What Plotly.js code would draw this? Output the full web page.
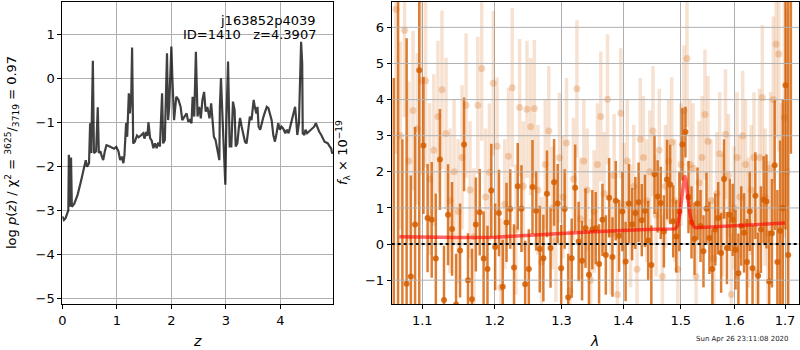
<!DOCTYPE html>
<html>
<head>
<meta charset="utf-8">
<script src="https://cdn.plot.ly/plotly-3.0.1.min.js"></script>
<style>html,body{margin:0;padding:0;background:#fff;}#chart{width:800px;height:350px;}</style>
</head>
<body>
<div id="chart"></div>
<script>
// ---------- Left panel: log p(z) ----------
const zGrid = [0.00,0.03,0.06,0.09,0.11,0.12,0.135,0.16,0.175,0.22,0.28,0.34,0.39,0.43,0.455,0.49,0.51,0.53,0.56,0.58,
  0.62,0.65,0.67,0.70,0.72,0.75,0.78,0.81,0.85,0.90,0.95,0.99,1.03,1.06,1.09,1.12,1.14,1.17,1.19,1.22,
  1.24,1.265,1.28,1.30,1.33,1.37,1.40,1.44,1.48,1.51,1.53,1.56,1.58,1.61,1.64,1.67,1.70,1.73,1.76,1.79,
  1.83,1.85,1.88,1.92,1.94,1.96,2.00,2.02,2.05,2.09,2.13,2.17,2.20,2.24,2.28,2.31,2.34,2.37,2.39,2.42,
  2.45,2.48,2.51,2.54,2.57,2.60,2.63,2.66,2.70,2.73,2.75,2.78,2.81,2.85,2.88,2.89,2.91,2.94,2.97,2.99,
  3.01,3.04,3.07,3.10,3.13,3.16,3.18,3.21,3.24,3.26,3.29,3.32,3.35,3.38,3.41,3.44,3.47,3.51,3.53,3.56,
  3.58,3.60,3.63,3.66,3.69,3.72,3.75,3.78,3.81,3.84,3.87,3.90,3.93,3.96,3.99,4.02,4.05,4.09,4.12,4.15,
  4.18,4.21,4.24,4.27,4.29,4.31,4.34,4.36,4.38,4.40,4.41,4.44,4.46,4.49,4.52,4.56,4.59,4.62,4.65,4.68,
  4.71,4.75,4.78,4.81,4.84,4.87,4.90,4.93,4.95,4.97];
const logPz = [-3.14,-3.22,-3.18,-3.05,-3.00,-1.74,-2.92,-1.80,-2.92,-2.85,-2.65,-2.35,-2.10,-1.86,-2.01,-1.93,-1.02,-1.70,0.40,-1.70,
  -1.66,-0.66,-1.70,-1.66,-1.76,-1.86,-1.66,-1.52,-1.54,-1.57,-1.60,-1.56,-1.66,-1.86,-1.78,-1.93,-1.74,-1.02,-1.33,-0.34,
  -0.80,-0.34,0.70,-1.48,-1.44,-1.30,-1.34,-1.30,-1.25,-1.37,-1.22,-1.31,-1.00,-1.36,-1.42,-1.59,-1.48,-1.59,-1.46,-1.55,
  -0.34,-1.48,-1.40,0.57,-0.95,-0.65,0.72,-0.04,-0.95,-0.42,-0.49,-0.65,-0.95,-0.87,-0.80,-0.99,-0.95,-1.02,-0.42,-0.87,
  0.60,-0.87,-0.65,-0.91,-0.49,-0.31,-0.76,-0.65,-0.91,-0.57,-0.95,-1.33,-1.40,-1.67,-1.86,-0.65,0.00,-0.95,-1.86,-2.42,
  -0.95,0.38,-1.55,-1.55,-0.53,-0.72,-1.55,-1.48,-1.10,-0.90,-1.10,-1.25,-1.44,-1.48,-1.17,-0.87,-0.95,-0.49,-0.65,-0.80,
  -0.65,-1.10,-1.17,-0.99,-0.87,-0.76,-0.65,-0.68,-0.83,-0.95,-1.29,-1.44,-1.25,-1.02,-1.17,-1.10,-1.14,-1.25,-1.17,-1.25,
  -1.10,-0.95,-0.80,-0.65,-0.95,-1.29,-1.02,0.34,0.83,0.34,-1.25,-1.29,-1.17,-1.25,-1.21,-1.17,-1.14,-1.10,-1.02,-1.14,
  -1.21,-1.29,-1.36,-1.44,-1.46,-1.48,-1.54,-1.59,-1.71,-1.67];

// ---------- Right panel: spectrum ----------
const lamDark = [1.0630,1.0685,1.0740,1.0795,1.0850,1.0905,1.0960,1.1015,1.1070,1.1125,1.1180,1.1235,1.1290,1.1345,1.1400,1.1455,1.1510,1.1565,1.1620,1.1675,
  1.1730,1.1785,1.1840,1.1895,1.1950,1.2005,1.2060,1.2115,1.2170,1.2225,1.2280,1.2335,1.2390,1.2445,1.2500,1.2555,1.2610,1.2665,1.2720,1.2775,
  1.2830,1.2885,1.2940,1.2995,1.3050,1.3105,1.3160,1.3215,1.3270,1.3325,1.3380,1.3435,1.3490,1.3545,1.3600,1.3655,1.3710,1.3765,1.3820,1.3875,
  1.3930,1.3985,1.4040,1.4095,1.4150,1.4205,1.4260,1.4315,1.4370,1.4425,1.4480,1.4535,1.4590,1.4645,1.4700,1.4755,1.4810,1.4865,1.4920,1.4975,
  1.5030,1.5085,1.5140,1.5195,1.5250,1.5305,1.5360,1.5415,1.5470,1.5525,1.5580,1.5635,1.5690,1.5745,1.5800,1.5855,1.5910,1.5965,1.6020,1.6075,
  1.6130,1.6185,1.6240,1.6295,1.6350,1.6405,1.6460,1.6515,1.6570,1.6625,1.6680,1.6735,1.6790,1.6845,1.6900,1.6955,1.7010,1.7065,1.7120];
const fluxDark = [-2.2,7.5,-2.3,-1.1,-0.9,0.54,4.81,2.73,0.72,0.67,-0.4,2.34,-1.55,0.81,0.42,-1.67,-0.18,2.76,-1.0,-1.53,
  0.54,0.88,-0.4,-0.69,1.48,-0.08,0.86,-1.18,0.60,0.97,-0.65,1.60,0.98,-1.11,-0.69,1.58,0.92,-0.14,-0.39,1.39,
  -0.11,1.71,1.12,-0.67,0.97,-1.47,-0.39,1.56,0.07,-0.46,0.44,-0.85,0.40,0.44,-0.55,0.67,-0.30,1.28,-0.36,1.20,
  0.23,0.90,-0.48,1.12,0.55,0.86,1.16,0.66,0.92,0.10,-0.58,1.93,1.32,1.14,0.35,1.79,1.65,0.63,0.21,0.90,
  2.76,3.10,1.30,0.60,0.15,1.12,0.50,-0.20,0.98,0.17,-0.69,0.40,0.72,-0.25,1.80,-0.11,0.81,0.67,-0.16,-0.81,
  0.50,0.31,-0.50,0.91,-0.67,1.34,-0.88,0.40,1.23,1.18,-1.04,0.30,2.18,-0.50,0.37,1.00,4.40,-0.30,8.50];
const errDark = [6.8,9.5,5.2,6.8,2.8,2.7,7.5,1.9,1.5,1.6,1.8,1.4,1.5,1.4,1.3,1.4,1.3,1.3,1.3,1.4,
  1.3,1.2,1.3,1.2,1.3,1.2,1.2,1.3,1.1,1.1,1.2,1.2,1.2,1.2,1.1,1.3,1.1,1.2,1.2,1.2,
  1.1,1.2,1.1,1.2,1.1,1.2,1.1,1.2,1.1,1.1,1.1,1.2,1.1,1.0,1.1,1.0,1.1,1.1,1.1,1.1,
  1.0,1.1,1.1,1.1,1.0,1.0,1.1,1.0,1.0,1.1,1.1,1.1,1.0,1.0,1.0,1.1,1.1,1.0,1.0,1.1,
  1.0,0.7,1.0,1.0,1.0,1.0,1.0,1.0,1.0,1.0,1.1,1.0,1.0,1.1,1.1,1.0,1.0,1.0,1.1,1.1,
  1.1,1.1,1.2,1.1,1.2,1.2,1.2,1.2,1.2,1.3,1.4,1.5,1.8,2.0,2.5,3.0,4.0,7.0,6.0];

const lamLight = [1.0658,1.0713,1.0768,1.0823,1.0878,1.0933,1.0988,1.1043,1.1098,1.1153,1.1208,1.1263,1.1318,1.1373,1.1428,1.1483,1.1538,1.1593,1.1648,1.1703,
  1.1758,1.1813,1.1868,1.1923,1.1978,1.2033,1.2088,1.2143,1.2198,1.2253,1.2308,1.2363,1.2418,1.2473,1.2528,1.2583,1.2638,1.2693,1.2748,1.2803,
  1.2858,1.2913,1.2968,1.3023,1.3078,1.3133,1.3188,1.3243,1.3298,1.3353,1.3408,1.3463,1.3518,1.3573,1.3628,1.3683,1.3738,1.3793,1.3848,1.3903,
  1.3958,1.4013,1.4068,1.4123,1.4178,1.4233,1.4288,1.4343,1.4398,1.4453,1.4508,1.4563,1.4618,1.4673,1.4728,1.4783,1.4838,1.4893,1.4948,1.5003,
  1.5058,1.5113,1.5168,1.5223,1.5278,1.5333,1.5388,1.5443,1.5498,1.5553,1.5608,1.5663,1.5718,1.5773,1.5828,1.5883,1.5938,1.5993,1.6048,1.6103,
  1.6158,1.6213,1.6268,1.6323,1.6378,1.6433,1.6488,1.6543,1.6598,1.6653,1.6708,1.6763,1.6818,1.6873,1.6928,1.6983,1.7038];
const fluxLight = [6.5,3.0,5.92,2.3,3.70,3.19,4.52,4.52,1.8,2.6,3.53,4.27,3.06,1.2,2.0,0.9,2.4,3.84,1.5,0.2,
  3.84,4.86,1.3,1.99,4.45,2.71,-1.2,1.1,2.43,4.33,0.4,3.78,1.6,3.73,3.25,3.75,1.5,-0.5,2.2,3.13,
  1.0,0.1,2.39,1.3,2.8,-1.3,1.8,4.30,0.7,2.3,1.5,-1.0,0.9,2.2,3.53,1.4,4.01,0.3,1.9,-1.4,
  3.62,1.1,2.3,0.5,1.6,-0.7,2.90,2.4,1.2,2.0,3.13,0.8,2.6,-0.9,1.6,2.3,2.82,1.2,-0.7,2.2,
  3.70,5.14,2.2,2.1,-0.9,1.7,2.4,3.59,2.85,1.2,-0.4,1.4,2.5,0.8,3.04,1.9,-1.4,1.0,2.4,1.3,
  3.0,2.2,0.6,1.5,2.4,-0.8,2.4,4.06,1.3,0.3,2.1,4.0,5.53,5.26,1.0,3.5,2.0];
const errLight = [4.0,2.6,2.4,2.2,2.2,2.1,2.6,2.4,2.1,2.1,2.1,2.2,2.1,2.0,2.0,2.0,2.0,2.0,1.9,1.9,
  1.9,2.0,1.9,1.9,2.0,1.9,1.9,1.8,1.9,2.2,1.8,1.9,1.8,1.9,1.9,1.9,1.8,1.8,1.8,1.8,
  1.7,1.7,1.8,1.7,1.8,1.7,1.7,1.9,1.7,1.7,1.7,1.7,1.7,1.7,1.8,1.7,1.8,1.7,1.7,1.7,
  1.8,1.7,1.7,1.7,1.7,1.7,1.7,1.7,1.7,1.7,1.8,1.7,1.7,1.7,1.7,1.7,1.8,1.7,1.7,1.7,
  1.8,1.9,1.8,1.8,1.7,1.7,1.7,1.8,1.8,1.7,1.7,1.7,1.7,1.7,1.8,1.7,1.7,1.7,1.8,1.7,
  1.8,1.8,1.8,1.8,1.8,1.8,1.9,2.0,1.9,2.0,2.1,2.3,2.6,2.7,2.9,3.3,4.5];

const lamModel = [1.070,1.100,1.150,1.200,1.250,1.300,1.350,1.400,1.450,1.490,1.494,1.498,1.502,1.505,1.507,1.509,1.512,1.516,1.520,1.524,1.528,1.550,1.600,1.650,1.700];
const fluxModel = [0.20,0.19,0.18,0.19,0.23,0.29,0.34,0.38,0.41,0.42,0.50,0.80,1.35,1.75,1.90,1.80,1.40,0.90,0.60,0.48,0.45,0.47,0.51,0.55,0.58];

const leftXTicks = [0,1,2,3,4];
const leftYTicks = [-5,-4,-3,-2,-1,0,1];
const rightXTicks = [1.1,1.2,1.3,1.4,1.5,1.6,1.7];
const rightXLabels = ['1.1','1.2','1.3','1.4','1.5','1.6','1.7'];
const rightYTicks = [-1,0,1,2,3,4,5,6];

const FONT = 'DejaVu Sans, Liberation Sans, sans-serif';
const VERM = '213,94,0';

const traces = [
  {x: zGrid, y: logPz, type: 'scatter', mode: 'lines', xaxis: 'x', yaxis: 'y',
   line: {color: 'rgba(0,0,0,0.75)', width: 2.2}, hoverinfo: 'skip'},
  {x: lamLight, y: fluxLight, type: 'scatter', mode: 'markers', xaxis: 'x2', yaxis: 'y2',
   marker: {color: 'rgba(' + VERM + ',0.25)', size: 7, line: {width: 0}},
   error_y: {type: 'data', array: errLight, visible: true, color: 'rgba(' + VERM + ',0.18)', thickness: 3.5, width: 0}},
  {x: lamDark, y: fluxDark, type: 'scatter', mode: 'markers', xaxis: 'x2', yaxis: 'y2',
   marker: {color: 'rgba(' + VERM + ',0.85)', size: 6, line: {width: 0}},
   error_y: {type: 'data', array: errDark, visible: true, color: 'rgba(' + VERM + ',0.8)', thickness: 2.5, width: 0}},
  {x: lamModel, y: fluxModel, type: 'scatter', mode: 'lines', xaxis: 'x2', yaxis: 'y2',
   line: {color: 'rgba(255,0,0,0.6)', width: 3.5}}
];

const yTop = 0.9951, yBot = 0.1314;
const shapes = [];
rightYTicks.forEach(v => shapes.push({type: 'line', xref: 'x2 domain', x0: 0, x1: 1, yref: 'y2', y0: v, y1: v,
  line: {color: '#b0b0b0', width: 1}, layer: 'above'}));
rightXTicks.forEach(v => shapes.push({type: 'line', xref: 'x2', x0: Math.log10(v), x1: Math.log10(v), yref: 'paper', y0: yBot, y1: yTop,
  line: {color: '#b0b0b0', width: 1}, layer: 'above'}));
shapes.push({type: 'line', xref: 'x2 domain', x0: 0, x1: 1, yref: 'y2', y0: 0, y1: 0,
  line: {color: 'black', width: 2, dash: 'dot'}, layer: 'above'});

const axCommon = {showline: true, mirror: true, linecolor: 'black', linewidth: 1, ticks: 'outside', ticklen: 4,
  tickwidth: 1, tickcolor: 'black', zeroline: false, automargin: false,
  tickfont: {family: FONT, size: 13, color: 'black'}};

const layout = {
  width: 800, height: 350, margin: {l: 0, r: 0, t: 0, b: 0},
  paper_bgcolor: 'white', plot_bgcolor: 'white', showlegend: false,
  font: {family: FONT, size: 13, color: 'black'},
  xaxis: Object.assign({}, axCommon, {domain: [0.0779, 0.4166], range: [0, 4.97], tickvals: leftXTicks,
    showgrid: true, gridcolor: '#b0b0b0', gridwidth: 1, anchor: 'y'}),
  yaxis: Object.assign({}, axCommon, {domain: [yBot, yTop], range: [-5.13, 1.74], tickvals: leftYTicks,
    showgrid: true, gridcolor: '#b0b0b0', gridwidth: 1, anchor: 'x'}),
  xaxis2: Object.assign({}, axCommon, {domain: [0.4896, 0.9988], type: 'log', range: [0.02543, 0.23775],
    tickvals: rightXTicks, ticktext: rightXLabels, showgrid: true, gridcolor: '#b0b0b0', gridwidth: 1, anchor: 'y2'}),
  yaxis2: Object.assign({}, axCommon, {domain: [yBot, yTop], range: [-1.66, 6.71], tickvals: rightYTicks,
    showgrid: false, anchor: 'x2'}),
  shapes: shapes,
  annotations: [
    {text: 'j163852p4039', xref: 'paper', yref: 'paper', x: 318/800, y: 1 - 20/350, xanchor: 'right', yanchor: 'middle',
     showarrow: false, font: {family: FONT, size: 13, color: 'black'}},
    {text: 'ID=1410&nbsp;&nbsp;&nbsp;z=4.3907', xref: 'paper', yref: 'paper', x: 318/800, y: 1 - 34/350, xanchor: 'right', yanchor: 'middle',
     showarrow: false, font: {family: FONT, size: 13, color: 'black'}},
    {text: 'log <i>p</i>(<i>z</i>) / χ<sup>2</sup> = <sup>3625</sup>/<sub>3719</sub> = 0.97', xref: 'paper', yref: 'paper',
     x: 12/800, y: 1 - 153/350, xanchor: 'center', yanchor: 'middle', textangle: -90,
     showarrow: false, font: {family: FONT, size: 13, color: 'black'}},
    {text: '<i>f</i><sub>λ</sub> × 10<sup>−19</sup>', xref: 'paper', yref: 'paper',
     x: 343/800, y: 1 - 153/350, xanchor: 'center', yanchor: 'middle', textangle: -90,
     showarrow: false, font: {family: FONT, size: 13, color: 'black'}},
    {text: '<i>z</i>', xref: 'paper', yref: 'paper', x: 197/800, y: 1 - 341/350, xanchor: 'center', yanchor: 'middle',
     showarrow: false, font: {family: FONT, size: 14, color: 'black'}},
    {text: '<i>λ</i>', xref: 'paper', yref: 'paper', x: 594/800, y: 1 - 341/350, xanchor: 'center', yanchor: 'middle',
     showarrow: false, font: {family: FONT, size: 14, color: 'black'}},
    {text: 'Sun Apr 26 23:11:08 2020', xref: 'paper', yref: 'paper', x: 742/800, y: 1 - 339/350, xanchor: 'center', yanchor: 'middle',
     showarrow: false, font: {family: FONT, size: 7, color: '#222'}}
  ]
};

Plotly.newPlot('chart', traces, layout, {staticPlot: true, displayModeBar: false});
</script>
</body>
</html>
